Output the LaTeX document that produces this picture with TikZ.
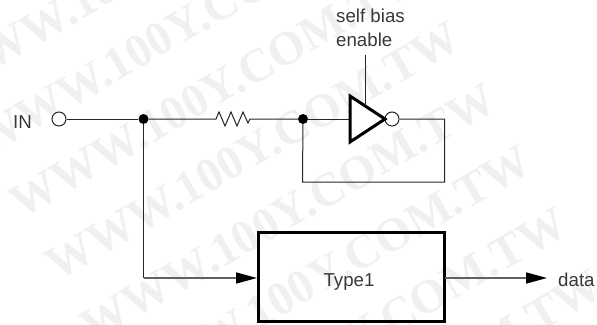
\documentclass[tikz,border=0pt]{standalone}
\usepackage{fontspec}
\setmainfont{Liberation Sans}
\newfontfamily\wmfont{Liberation Serif Bold}
\usetikzlibrary{arrows.meta}
\tikzset{
  wire/.style={line width=1pt,draw=black!85},
  feed/.style={line width=1.5pt,draw=black!62},
  dot/.style={circle,fill=black,inner sep=0pt,minimum size=10pt},
  hole/.style={circle,draw=black!85,line width=1pt,fill=white,inner sep=0pt,minimum size=14pt},
  lbl/.style={font=\fontsize{18.7}{22}\selectfont,text=black!78,inner sep=0pt},
  arr/.style={-{Triangle[length=21pt,width=11pt,black]}},
  wm/.style={font=\fontsize{47.4}{47.4}\selectfont\wmfont,text=black!6,rotate=30,inner sep=0pt,anchor=base west}
}
\begin{document}
\begin{tikzpicture}[x=1pt,y=-1pt]
\useasboundingbox (0,0) rectangle (597,324);
\clip (0,0) rectangle (597,324);
\foreach \k in {-2,...,6}
  \node[wm] (wm\k) at ({112-126+\k*35.5},{80+77.5+\k*62}) {WWW.100Y.COM.TW};
\node[lbl,anchor=base west] (in) at (13,128) {IN};
\node[hole] (inp) at (59,119) {};
\node[dot] (j1) at (143.5,119) {};
\coordinate (ra) at (216,119);
\coordinate (rb) at (250,119);
\node[dot] (j2) at (303,119) {};
\coordinate (tl) at (350,119);
\coordinate (tt) at (350,96);
\coordinate (tb) at (350,142);
\coordinate (ta) at (385,119);
\node[hole] (bub) at (392,119) {};
\coordinate (fb1) at (444.5,119);
\coordinate (fb2) at (444.5,182);
\coordinate (fb3) at (302.5,182);
\node[lbl,anchor=base west] (sb) at (336,23) {self bias};
\node[lbl,anchor=base west] (en) at (336,46) {enable};
\coordinate (ena) at (365,55);
\coordinate (enb) at (365,106);
\node[draw=black,line width=3pt,minimum width=186pt,minimum height=89pt,inner sep=0pt] (box) at (351,276.5) {};
\node[lbl,anchor=base] (boxtext) at (349,286) {Type1};
\coordinate (l1) at (143.5,278);
\coordinate (bl) at (257,278);
\coordinate (br) at (445,278);
\coordinate (dend) at (547,278);
\node[lbl,anchor=base west] (data) at (558,286) {data};
\draw[wire] (inp) -- (j1);
\draw[wire] (j1) -- (ra) -- ++(3,-7) -- ++(6,14) -- ++(6,-14) -- ++(6,14) -- ++(6,-14) -- ++(5,11) -- (rb) -- (j2);
\draw[wire] (j2) -- (tl);
\draw[wire] (bub) -- (fb1) -- (fb2) -- (fb3) -- (j2);
\draw[line width=3pt,line join=miter,fill=white] (tt) -- (ta) -- (tb) -- cycle;
\draw[wire] (ena) -- (enb);
\draw[wire] (j1) -- (l1);
\draw[feed,arr] (l1) -- (bl);
\draw[feed,arr] (br) -- (dend);
\end{tikzpicture}
\end{document}
